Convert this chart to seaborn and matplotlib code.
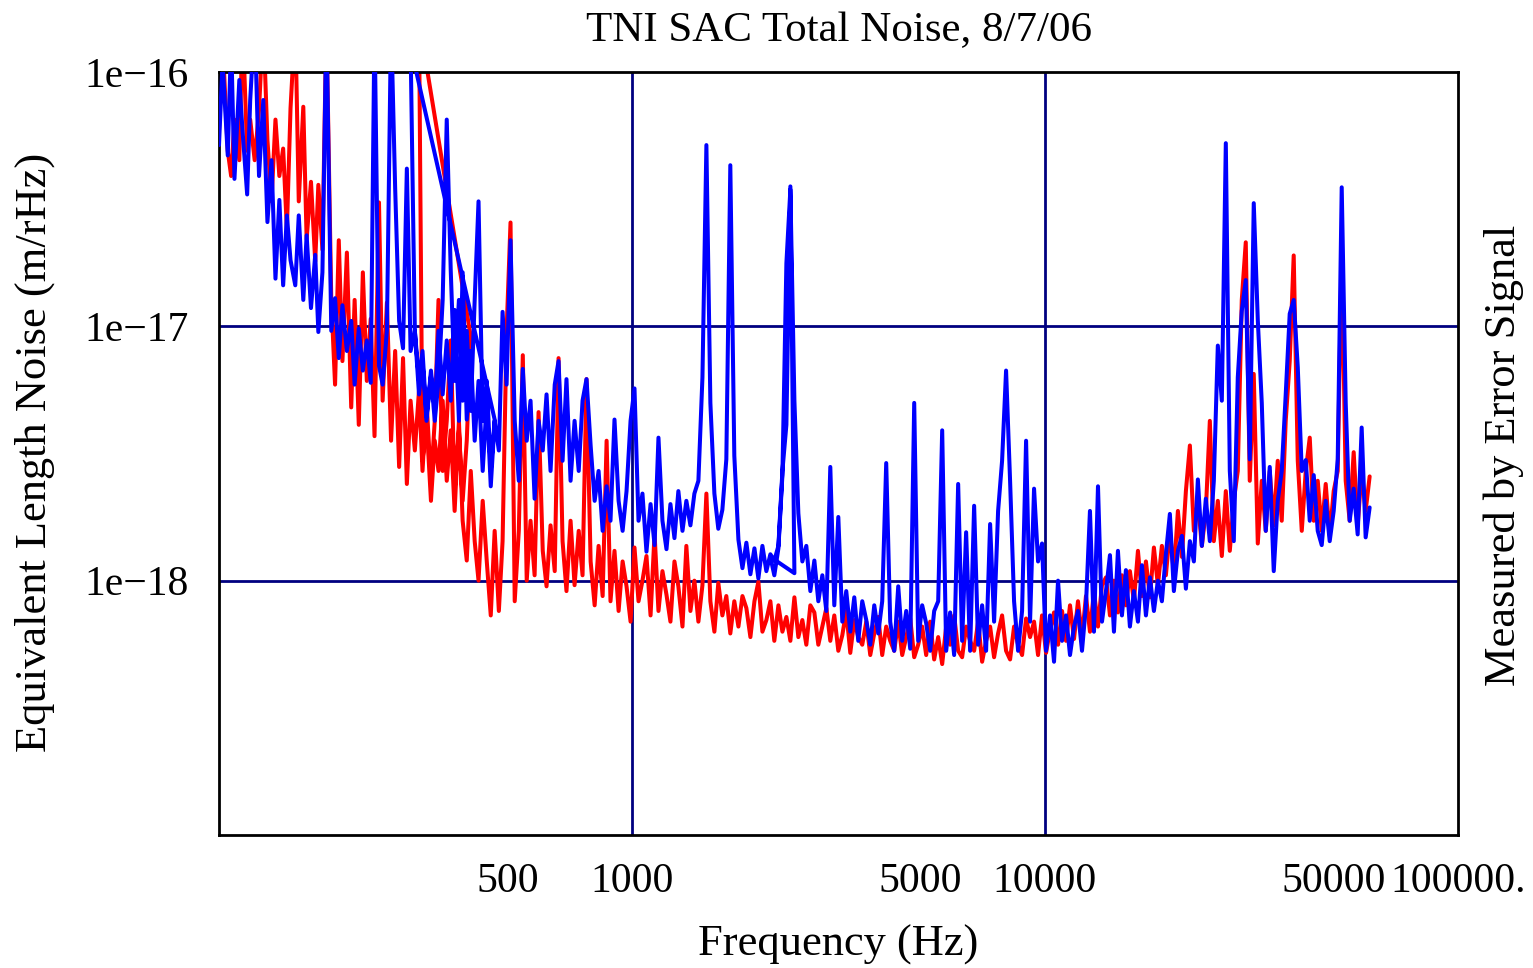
import matplotlib
matplotlib.use("Agg")
import matplotlib.pyplot as plt
import pandas as pd
import seaborn as sns
from matplotlib.ticker import FixedLocator, FixedFormatter, NullLocator

# ---------------- data ----------------
# frequency grid (Hz)
freq = [
    100, 102, 105, 107, 109, 112, 114, 117, 119, 122,
    125, 128, 131, 134, 137, 140, 143, 146, 149, 153,
    156, 160, 163, 167, 171, 174, 178, 182, 187, 191,
    195, 199, 204, 209, 213, 218, 223, 228, 233, 238,
    244, 249, 255, 261, 267, 273, 279, 285, 291, 298,
    305, 311, 318, 326, 333, 340, 348, 356, 364, 372,
    381, 389, 398, 407, 416, 425, 435, 445, 455, 465,
    476, 486, 497, 508, 520, 532, 544, 556, 568, 581,
    594, 608, 621, 635, 650, 664, 679, 694, 710, 726,
    743, 759, 776, 794, 812, 830, 849, 868, 887, 907,
    928, 949, 970, 992, 1014, 1037, 1060, 1084, 1109, 1134,
    1159, 1185, 1212, 1239, 1267, 1295, 1325, 1354, 1385, 1416,
    1448, 1481, 1514, 1548, 1583, 1618, 1655, 1692, 1730, 1769,
    1810, 1851, 1892, 1935, 1979, 2023, 2069, 2115, 2163, 2211,
    2262, 2313, 2365, 2418, 2473, 2528, 2585, 2643, 2703, 2764,
    2826, 2890, 2955, 3021, 3089, 3159, 3230, 3302, 3377, 3453,
    3531, 3610, 3692, 3775, 3860, 3947, 4035, 4126, 4219, 4314,
    4412, 4511, 4613, 4717, 4823, 4931, 5042, 5156, 5272, 5391,
    5513, 5637, 5764, 5893, 6026, 6162, 6300, 6442, 6587, 6736,
    6888, 7043, 7201, 7364, 7529, 7699, 7872, 8049, 8231, 8416,
    8607, 8800, 8999, 9201, 9408, 9620, 9836, 10058, 10284, 10516,
    10754, 10996, 11243, 11496, 11755, 12019, 12290, 12566, 12849, 13139,
    13437, 13739, 14048, 14364, 14687, 15018, 15356, 15701, 16054, 16416,
    16790, 17168, 17554, 17949, 18353, 18766, 19188, 19620, 20061, 20513,
    20980, 21452, 21935, 22428, 22933, 23449, 23976, 24516, 25068, 25632,
    26210, 26800, 27403, 28020, 28650, 29295, 29954, 30628, 31317, 32022,
    32750, 33487, 34240, 35011, 35799, 36604, 37428, 38270, 39131, 40012,
    40930, 41851, 42793, 43756, 44740, 45747, 46776, 47829, 48905, 50005,
    51140, 52291, 53467, 54670, 55900, 57158, 58444, 59759, 61104,
]

# noise values in units of 1e-18 m/rHz; each span starts at a grid index
red_span1_start = 0
red_span1 = [
    59, 134, 49, 39, 65, 45, 160, 49, 65, 45,
    71, 160, 54, 31, 65, 39, 50, 24, 72, 160,
    31, 73, 22, 37, 18, 36, 20, 160, 12.7, 5.9,
    21.8, 7.3, 19.5, 4.8, 12.7, 4.1, 16.3, 6.1, 10.7, 3.7,
    30.7, 5.1, 12.4, 3.55, 8.0, 2.8, 7.5, 2.4, 5.1, 3.25,
    5.6, 2.7, 5.1, 2.47, 4.25, 12.7, 2.7, 4.25, 8.8, 2.25,
    3.9, 2.06, 3.55, 9.1,
]
red_span2_start = 50
red_span2 = [
    160, 2.96, 4.25, 2.06, 3.55, 2.7, 5.1, 2.47, 3.9, 1.88,
    4.25, 1.72, 1.2, 2.7, 1.43, 1.0, 2.06, 1.19, 0.73, 1.57,
    0.76, 1.43, 9.6, 25.6, 0.83, 1.57, 7.7, 1.0, 1.72, 1.05,
    4.6, 1.31, 0.95, 1.65, 1.09, 7.5, 1.43, 0.91, 1.72, 0.96,
    1.57, 1.05, 6.2, 1.19, 0.8, 1.37, 0.87, 3.55, 0.83, 1.31,
    0.76, 1.19, 0.95, 0.69, 1.35, 0.83, 1.0, 1.25, 0.73, 1.53,
    0.76, 1.09, 0.88, 0.69, 1.19, 0.95, 0.66, 1.37, 0.76, 1.0,
    0.69, 0.96, 2.2, 0.83, 0.63, 0.98, 0.73, 0.87, 0.62, 0.83,
    0.66, 0.87, 0.78, 0.6, 0.83, 0.99, 0.63, 0.7, 0.83, 0.58,
    0.8, 0.63, 0.72, 0.58, 0.86, 0.6, 0.7, 0.56, 0.8, 0.75,
    0.56, 0.66, 0.78, 0.58, 0.73, 0.53, 0.61, 0.76, 0.52, 0.7,
    0.6, 0.56, 0.69, 0.51, 0.62, 0.72, 0.51, 0.66, 0.58, 0.53,
    0.69, 0.51, 0.6, 0.71, 0.5, 0.56, 0.66, 0.51, 0.69, 0.49,
    0.6, 0.47, 0.66, 0.56, 0.73, 0.53, 0.5, 0.66, 0.58, 0.53,
    0.69, 0.48, 0.58, 0.66, 0.5, 0.62, 0.73, 0.53, 0.49, 0.66,
    0.56, 0.51, 0.71, 0.6, 0.69, 0.51, 0.73, 0.52, 0.64, 0.75,
    0.56, 0.76, 0.58, 0.8, 0.59, 0.83, 0.6, 0.87, 0.63, 0.91,
    0.66, 0.96, 1.03, 0.73, 1.0, 0.75, 1.05, 0.8, 1.09, 0.83,
    1.31, 0.87, 1.19, 0.86, 1.35, 0.96, 1.37, 1.05, 1.57, 1.07,
    1.88, 1.24, 2.25, 3.4, 1.57, 2.06, 1.37, 1.88, 4.25, 1.43,
    2.06, 1.25, 2.25, 1.31, 2.06, 2.7, 12.7, 21.4, 2.47, 6.5,
    1.4, 2.47, 1.57, 2.7, 1.65, 2.96, 1.72, 4.25, 7.3, 19.0,
    2.96, 1.57, 2.7, 3.65, 1.72, 2.47, 1.57, 2.4, 1.5, 2.25,
    2.7, 19.9, 2.47, 1.72, 3.2, 1.65, 2.7, 1.88, 2.57,
]

blue_span1_start = 0
blue_span1 = [
    51.6, 110, 47, 134, 38, 93, 59, 33, 77.6, 160,
    39, 77.6, 25.7, 45, 15.4, 31.4, 14.5, 27.3, 18.2, 14.5,
    27.3, 12.7, 22.8, 11.8, 19.1, 9.5, 16.3, 160, 9.6, 12.9,
    7.5, 12.1, 8.0, 10.5, 5.9, 9.8, 6.7, 8.8, 6.0, 160,
    7.0, 5.9, 9.6, 160, 35, 10.5, 8.2, 41.7, 8.0, 9.6,
    6.1, 8.0, 4.4, 6.4, 4.25, 6.1, 12.7, 65, 16.6, 6.1,
    12.7, 5.1, 9.6, 4.65, 12.7, 31, 4.25, 6.1, 2.7, 4.3,
]
blue_span2_start = 48
blue_span2 = [
    126, 9.6,
    5.4, 7.3, 4.25, 6.7, 4.65, 9.6, 5.4, 8.8, 5.1, 11.6,
    4.25, 16.3, 4.3, 8.0, 3.55, 6.1, 2.7, 5.1, 2.35, 4.25,
    3.25, 11.4, 5.9, 21.8, 4.25, 2.47, 6.8, 3.55, 5.1, 2.1,
    4.25, 3.25, 5.4, 2.7, 5.9, 7.3, 2.96, 6.2, 2.47, 4.25,
    2.7, 5.1, 6.2, 3.4, 2.06, 2.7, 1.57, 2.35, 1.72, 4.3,
    2.06, 1.57, 2.25, 4.25, 5.7, 1.72, 2.2, 1.3, 2.0, 1.38,
    3.65, 1.72, 1.33, 2.0, 1.47, 2.25, 1.57, 2.06, 1.65, 2.2,
    2.47, 6.3, 51.6, 5.0, 2.2, 1.6, 1.9, 3.0, 43, 3.1,
    1.45, 1.12, 1.41, 1.06, 1.34, 1.02, 1.37, 1.09, 1.27, 1.2,
    1.37, 2.7, 4.1, 35.5, 1.07,
]
blue_span3_start = 138
blue_span3 = [
    1.24, 1.05,
    1.34, 2.6, 17.7, 34.5, 5.1, 1.84, 1.19, 1.37, 0.91, 1.2,
    0.83, 1.05, 0.76, 2.8, 0.8, 1.78, 0.69, 0.91, 0.63, 0.86,
    0.58, 0.83, 0.7, 0.56, 0.8, 0.62, 0.83, 2.9, 0.69, 0.53,
    0.95, 0.58, 0.76, 0.54, 5.0, 0.58, 0.8, 0.68, 0.53, 0.76,
    0.83, 3.9, 0.53, 0.75, 0.51, 2.4, 0.58, 1.55, 0.53, 1.97,
    0.56, 0.8, 0.53, 1.67, 0.69, 1.88, 2.96, 6.7, 2.47, 0.83,
    0.53, 0.76, 3.55, 0.69, 2.3, 1.19, 1.4, 0.53, 0.73, 0.48,
    1.0, 0.58, 0.73, 0.51, 0.66, 0.76, 0.53, 0.8, 1.88, 0.63,
    2.35, 0.69, 0.91, 1.26, 0.63, 1.31, 0.73, 1.1, 0.66, 0.91,
    0.69, 1.15, 0.73, 1.03, 0.76, 1.0, 0.83, 1.27, 1.83, 0.91,
    1.31, 1.5, 0.93, 1.43, 1.19, 2.5, 1.37, 2.1, 1.43, 2.47,
    8.4, 5.1, 52.5, 2.7, 1.43, 6.3, 11.5, 15.2, 3.0, 30.5,
    10.6, 5.0, 1.57, 2.8, 1.09, 2.06, 2.7, 5.4, 11.2, 12.7,
    6.9, 2.7, 2.98, 1.72, 2.6, 1.57, 1.38, 2.06, 1.43, 1.88,
    3.0, 35.2, 5.0, 1.72, 2.3, 1.52, 4.0, 1.48, 1.94,
]
value_unit = 1e-18

x_ticks = [500, 1000, 5000, 10000, 50000, 100000]
x_tick_labels = ["500", "1000", "5000", "10000", "50000", "100000."]
y_ticks = [1e-16, 1e-17, 1e-18]
y_tick_labels = ["1e\u221216", "1e\u221217", "1e\u221218"]
grid_x = [1000, 10000]
grid_y = [1e-17, 1e-18]
x_range = (100, 100000)
y_range = (1e-19, 1e-16)

title = "TNI SAC Total Noise, 8/7/06"
x_label = "Frequency (Hz)"
y_label = "Equivalent Length Noise (m/rHz)"
right_label = "Measured by Error Signal"


def build(spans):
    rows = []
    n = 0
    for start, vals in spans:
        assert start + len(vals) <= len(freq), (start, len(vals))
        for k, v in enumerate(vals):
            rows.append((n, freq[start + k], v * value_unit))
            n += 1
    return pd.DataFrame(rows, columns=["order", "freq", "noise"])


red_df = build([(red_span1_start, red_span1), (red_span2_start, red_span2)])
blue_df = build([(blue_span1_start, blue_span1), (blue_span2_start, blue_span2),
                 (blue_span3_start, blue_span3)])

# ---------------- style ----------------
sns.set_theme(style="white")
plt.rcParams["font.family"] = ["Liberation Serif", "DejaVu Serif"]
plt.rcParams["axes.unicode_minus"] = True

W, H = 1533, 968
fig = plt.figure(figsize=(W / 100, H / 100), dpi=100)
fig.patch.set_facecolor("white")
ax = fig.add_axes([219 / W, 1 - 835 / H, (1458 - 219) / W, (835 - 72) / H])
ax.set_xscale("log")
ax.set_yscale("log")

navy = "#000080"
for gx in grid_x:
    ax.axvline(gx, color=navy, lw=2.0, zorder=0.5)
for gy in grid_y:
    ax.axhline(gy, color=navy, lw=2.0, zorder=0.5)

sns.lineplot(data=red_df, x="freq", y="noise", sort=False, estimator=None,
             color="#ff0000", lw=2.9, ax=ax, zorder=2)
sns.lineplot(data=blue_df, x="freq", y="noise", sort=False, estimator=None,
             color="#0000ff", lw=2.9, ax=ax, zorder=3)

ax.set_xlim(*x_range)
ax.set_ylim(*y_range)

ax.xaxis.set_major_locator(FixedLocator(x_ticks))
ax.xaxis.set_major_formatter(FixedFormatter(x_tick_labels))
ax.xaxis.set_minor_locator(NullLocator())
ax.yaxis.set_major_locator(FixedLocator(y_ticks))
ax.yaxis.set_major_formatter(FixedFormatter(y_tick_labels))
ax.yaxis.set_minor_locator(NullLocator())
ax.tick_params(axis="both", length=0, labelsize=30, colors="black")
ax.tick_params(axis="x", pad=20)
ax.tick_params(axis="y", pad=22)
ax.grid(False)

for s in ax.spines.values():
    s.set_color("black")
    s.set_linewidth(2.0)
    s.set_visible(True)

ax.set_title(title, fontsize=31, pad=22, color="black")
ax.set_xlabel(x_label, fontsize=32, color="black")
ax.set_ylabel(y_label, fontsize=32, color="black")
ax.xaxis.set_label_coords(0.5, -0.118)
ax.yaxis.set_label_coords(-0.132, 0.502)
ax.text(1.037, 0.498, right_label, rotation=90, transform=ax.transAxes,
        ha="center", va="center", fontsize=32, color="black")

fig.savefig("out.png", dpi=100, facecolor="white")
